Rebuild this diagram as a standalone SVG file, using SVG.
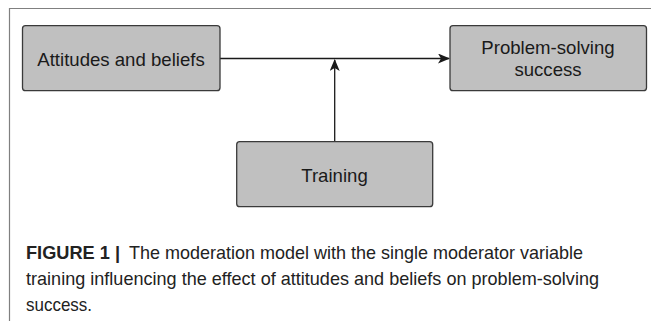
<svg xmlns="http://www.w3.org/2000/svg" width="651" height="321" viewBox="0 0 651 321">
  <defs>
    <style>
      .node rect { fill: #c0c0c0; stroke: #3a3a3a; stroke-width: 1.3; }
      .node text { font-family: "Liberation Sans", Arial, sans-serif; font-size: 18.6px; fill: #1a1a1a; text-anchor: middle; }
      .conn { stroke: #1a1a1a; stroke-width: 1.3; fill: none; }
      .cap { font-family: "Liberation Sans", Arial, sans-serif; font-size: 19px; fill: #222; }
      .frame { stroke: #808080; stroke-width: 1.2; fill: none; }
    </style>
    <marker id="arr" viewBox="0 0 12 10" refX="11" refY="5" markerWidth="12" markerHeight="10" markerUnits="userSpaceOnUse" orient="auto">
      <path d="M0,0 L12,5 L0,10 L3,5 Z" fill="#1a1a1a"/>
    </marker>
  </defs>
  <rect width="651" height="321" fill="#ffffff"/>
  <path class="frame" d="M651,8.5 H9.5 V321"/>

  <g id="connectors">
    <path class="conn" d="M220,58.5 H449" marker-end="url(#arr)"/>
    <path class="conn" d="M334.7,141.7 V60" marker-end="url(#arr)"/>
  </g>

  <g id="node-attitudes" class="node">
    <rect x="22.5" y="25.7" width="197.5" height="65" rx="3"/>
    <text x="121" y="65.5">Attitudes and beliefs</text>
  </g>
  <g id="node-success" class="node">
    <rect x="450" y="25.7" width="196.5" height="65" rx="3"/>
    <text x="548" y="54">Problem-solving</text>
    <text x="548" y="76">success</text>
  </g>
  <g id="node-training" class="node">
    <rect x="236.7" y="141.7" width="196" height="65" rx="3"/>
    <text x="334.5" y="182">Training</text>
  </g>

  <g id="caption" class="cap">
    <text y="259.3"><tspan x="26" font-weight="bold" textLength="94" lengthAdjust="spacingAndGlyphs">FIGURE 1 |</tspan><tspan x="129" textLength="454" lengthAdjust="spacingAndGlyphs">The moderation model with the single moderator variable</tspan></text>
    <text x="26" y="285" textLength="573" lengthAdjust="spacingAndGlyphs">training influencing the effect of attitudes and beliefs on problem-solving</text>
    <text x="26" y="310.5" textLength="66" lengthAdjust="spacingAndGlyphs">success.</text>
  </g>
</svg>
